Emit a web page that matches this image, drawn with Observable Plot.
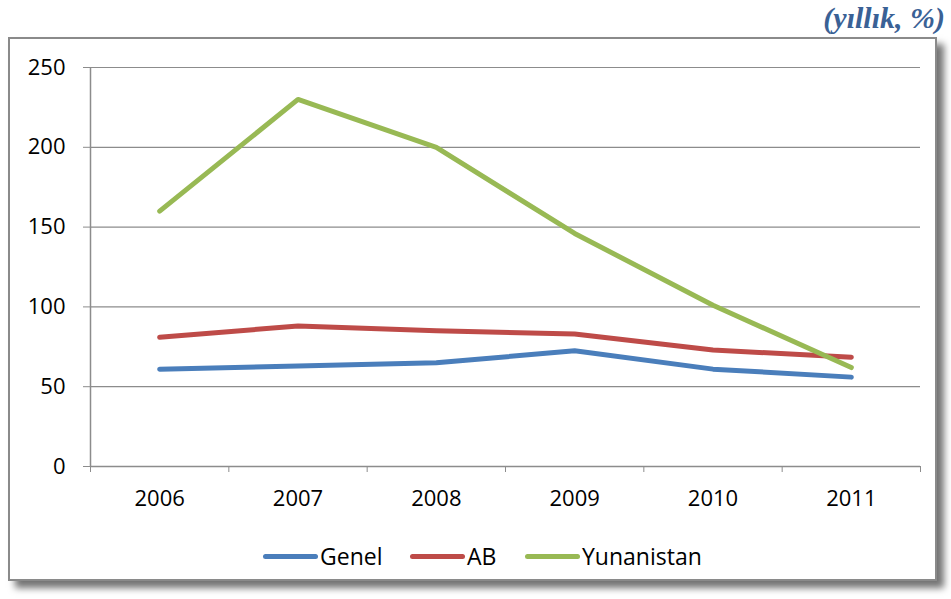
<!DOCTYPE html>
<html>
<head>
<meta charset="utf-8">
<script src="https://cdn.jsdelivr.net/npm/d3@7"></script>
<script src="https://cdn.jsdelivr.net/npm/@observablehq/plot@0.6"></script>
<style>
  html, body { margin: 0; padding: 0; background: #fff; }
  #wrap { position: relative; width: 951px; height: 599px; overflow: hidden; font-family: "Open Sans", "Noto Sans", sans-serif; }
  #box { position: absolute; left: 8px; top: 37px; width: 925px; height: 540px; border: 2px solid #8a8a8a; box-shadow: 7px 7px 7px rgba(0,0,0,0.55); background: #fff; }
  #title { position: absolute; right: 6px; top: 1px; font-family: "Liberation Serif", "DejaVu Serif", serif; font-style: italic; font-weight: bold; font-size: 30px; color: #3a6195; }
  #chart { position: absolute; left: 0; top: 0; }
  #legend { position: absolute; top: 538px; left: 0; width: 951px; height: 36px; font-size: 23px; color: #000; }
  .item { position: absolute; top: 0; display: flex; align-items: center; height: 36px; }
  .sw { width: 55px; height: 5px; border-radius: 3px; margin-right: 2px; }
</style>
</head>
<body>
<div id="wrap">
  <div id="box"></div>
  <div id="title">(yıllık, %)</div>
  <div id="chart"></div>
  <div id="legend"></div>
</div>
<script>
const years = [2006, 2007, 2008, 2009, 2010, 2011];
const genel = [61, 63, 65, 72.5, 61, 56];
const ab = [81, 88, 85, 83, 73, 68.5];
const yunanistan = [160, 230, 200, 146, 101, 62];
const seriesNames = ["Genel", "AB", "Yunanistan"];
const seriesColors = ["#4a7ebb", "#be4b48", "#98b954"];
const yTicks = [0, 50, 100, 150, 200, 250];

const seriesValues = [genel, ab, yunanistan];
const data = [];
seriesNames.forEach((name, i) => {
  years.forEach((yr, j) => data.push({series: name, year: yr, value: seriesValues[i][j]}));
});
const bounds = years.map(y => y - 0.5).concat([years[years.length - 1] + 0.5]);

const chart = Plot.plot({
  width: 951,
  height: 530,
  marginLeft: 90,
  marginRight: 31,
  marginTop: 67,
  marginBottom: 64,
  style: {fontFamily: "'Open Sans', 'Noto Sans', sans-serif", fontSize: "22px", color: "#000", background: "transparent"},
  x: {domain: [bounds[0], bounds[bounds.length - 1]]},
  y: {domain: [0, 250]},
  color: {domain: seriesNames, range: seriesColors},
  marks: [
    Plot.ruleY(yTicks.filter(d => d > 0), {stroke: "#8c8c8c", strokeWidth: 1.2, strokeOpacity: 1}),
    Plot.ruleY([0], {stroke: "#8c8c8c", strokeWidth: 1.5}),
    Plot.ruleX([bounds[0]], {stroke: "#8c8c8c", strokeWidth: 1.5, y1: 0, y2: 250}),
    Plot.axisY({ticks: yTicks, tickSize: 7, tickPadding: 18, label: null, stroke: "#8c8c8c", fontSize: 22, tickFormat: d => String(d)}),
    Plot.axisX({ticks: bounds, tickSize: 6, tickFormat: () => "", label: null, stroke: "#8c8c8c"}),
    Plot.axisX({ticks: years, tickSize: 0, tickPadding: 24, fontSize: 22, tickFormat: d => String(d), label: null}),
    Plot.line(data, {x: "year", y: "value", z: "series", stroke: "series", strokeWidth: 5, strokeLinecap: "round", strokeLinejoin: "round", curve: "linear"})
  ]
});
document.getElementById("chart").appendChild(chart);

const legendLeft = [263, 410, 525];
const legend = document.getElementById("legend");
seriesNames.forEach((n, i) => {
  const it = document.createElement("div");
  it.className = "item";
  it.style.left = legendLeft[i] + "px";
  const sw = document.createElement("div");
  sw.className = "sw";
  sw.style.background = seriesColors[i];
  const t = document.createElement("span");
  t.textContent = n;
  it.appendChild(sw); it.appendChild(t);
  legend.appendChild(it);
});
</script>
</body>
</html>
